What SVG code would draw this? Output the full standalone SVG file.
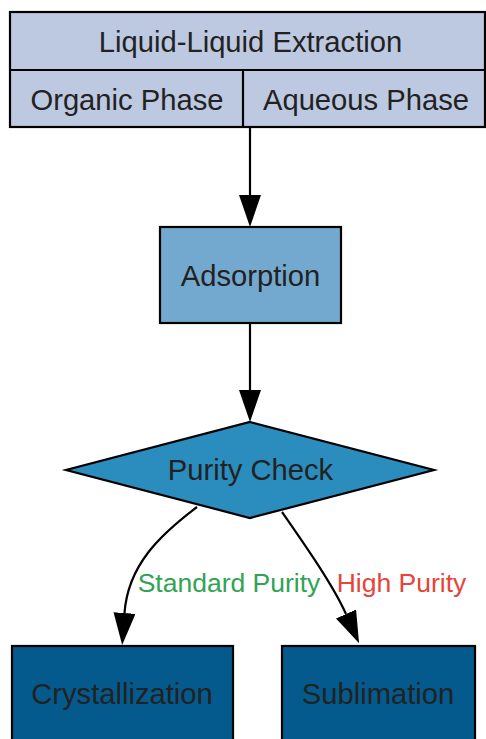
<svg xmlns="http://www.w3.org/2000/svg" width="486" height="739" viewBox="0 0 486 739">
<defs>
<style>
.n{stroke:#000;stroke-width:2.2}
.t{font-family:"Liberation Sans",Arial,sans-serif;font-size:29.2px;fill:#222;text-anchor:middle}
.l{font-family:"Liberation Sans",Arial,sans-serif;font-size:26.5px;text-anchor:middle}
.e{fill:none;stroke:#000;stroke-width:2.2}
</style>
<marker id="ah" viewBox="0 0 32 22" markerWidth="32" markerHeight="22" markerUnits="userSpaceOnUse" refX="0" refY="11" orient="auto">
<path d="M0,0 L32,11 L0,22 z" fill="#000"/>
</marker>
</defs>
<rect width="486" height="739" fill="#fff"/>
<g id="lle">
<rect class="n" x="10" y="12" width="475" height="115" fill="#bdc9e1"/>
<line class="n" x1="10" y1="70" x2="485" y2="70"/>
<line class="n" x1="243" y1="70" x2="243" y2="127"/>
<text class="t" x="250.5" y="52">Liquid-Liquid Extraction</text>
<text class="t" x="127" y="110">Organic Phase</text>
<text class="t" x="366" y="110">Aqueous Phase</text>
</g>
<g id="adsorption">
<rect class="n" x="160" y="227" width="181" height="96" fill="#74a9cf"/>
<text class="t" x="250.5" y="286">Adsorption</text>
</g>
<g id="purity">
<polygon class="n" points="250,422 434,470 250,518 66,470" fill="#2b8cbe"/>
<text class="t" x="250.5" y="480">Purity Check</text>
</g>
<g id="crystallization">
<rect class="n" x="12" y="646" width="221" height="110" fill="#045a8d"/>
<text class="t" x="122" y="704">Crystallization</text>
</g>
<g id="sublimation">
<rect class="n" x="282" y="646" width="193" height="110" fill="#045a8d"/>
<text class="t" x="378" y="704">Sublimation</text>
</g>
<g id="connectors">
<line class="e" x1="250" y1="128" x2="250" y2="195" marker-end="url(#ah)"/>
<line class="e" x1="250" y1="323" x2="250" y2="390" marker-end="url(#ah)"/>
<path class="e" d="M197,507 C160,535 128,565 124.5,613" marker-end="url(#ah)"/>
<path class="e" d="M282,512 C305,545 333,585 346,614" marker-end="url(#ah)"/>
<text class="l" x="229" y="592" fill="#31a354">Standard Purity</text>
<text class="l" x="401.5" y="592" fill="#e6453a">High Purity</text>
</g>
</svg>
